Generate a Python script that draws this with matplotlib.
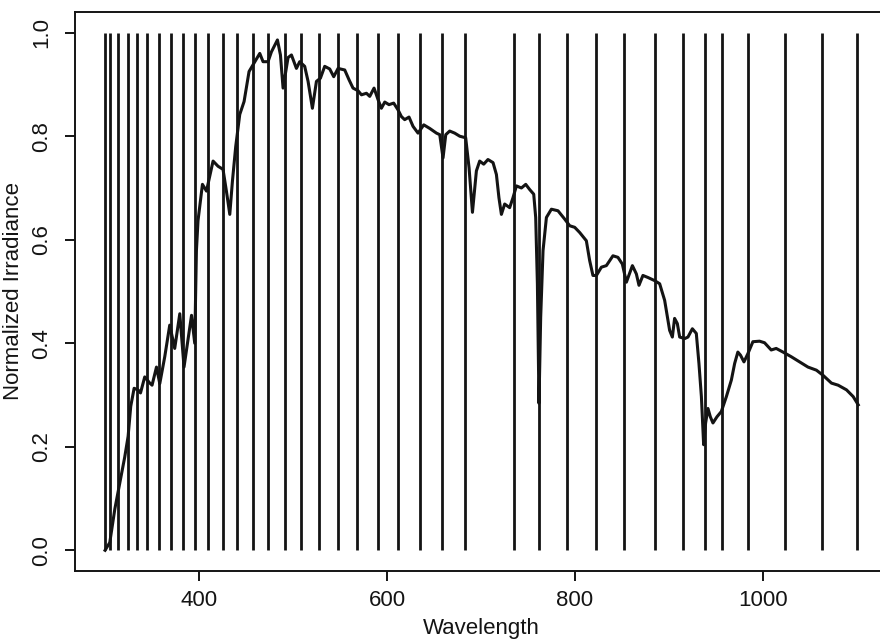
import matplotlib
matplotlib.use("Agg")
import matplotlib.pyplot as plt

plt.rcParams['font.family'] = ['Liberation Sans', 'DejaVu Sans']

# band centres (vertical lines)
bands = [300, 305, 314, 324, 334, 345, 357, 370, 383, 396, 410, 425, 440, 457,
         473, 491, 509, 528, 548, 568, 590, 612, 635, 658, 683, 735, 762, 791,
         822, 852, 885, 915, 938, 956, 984, 1023, 1063, 1100]

# spectrum
wavelength = [300.0, 305.0, 310.4, 315.6, 320.9, 324.5, 327.3, 330.9, 335.0, 337.7,
              342.2, 347.6, 350.0, 354.7, 358.2, 363.5, 368.8, 374.1, 379.5, 384.0,
              392.0, 395.4, 397.2, 398.9, 403.6, 407.9, 414.9, 420.2, 425.5, 429.1,
              432.7, 435.5, 439.0, 443.3, 447.9, 453.2, 457.4, 460.0, 464.6, 468.1,
              473.4, 477.0, 483.4, 486.6, 489.4, 494.7, 498.3, 503.6, 507.1, 512.4,
              516.0, 520.6, 524.9, 529.1, 533.7, 539.0, 543.3, 547.9, 555.0, 559.6,
              563.8, 569.1, 572.8, 578.1, 581.6, 586.2, 590.4, 594.0, 597.6, 602.1,
              607.1, 611.7, 615.3, 618.8, 623.4, 627.7, 633.0, 639.1, 645.5, 652.6,
              656.1, 659.6, 662.5, 666.7, 672.0, 677.4, 683.7, 687.3, 690.9, 695.1,
              698.6, 702.9, 707.4, 712.8, 716.4, 719.1, 721.7, 725.2, 730.5, 734.0,
              737.7, 743.0, 747.6, 751.8, 756.1, 758.2, 760.0, 761.7, 763.5, 766.0,
              769.6, 774.9, 781.9, 789.0, 794.4, 799.7, 805.0, 812.1, 815.6, 819.1,
              822.8, 828.1, 833.4, 840.4, 845.7, 850.4, 854.7, 861.1, 865.3, 868.1,
              872.3, 877.7, 884.8, 890.1, 895.4, 900.7, 903.6, 906.0, 908.9, 911.4,
              916.7, 920.2, 924.9, 929.1, 931.9, 934.5, 936.9, 939.0, 941.5, 944.0,
              946.8, 951.1, 955.7, 961.1, 966.4, 969.9, 973.3, 976.1, 979.8, 984.0,
              989.3, 996.4, 1001.7, 1008.8, 1014.1, 1021.3, 1030.1, 1038.9, 1047.9, 1056.9,
              1064.0, 1072.9, 1080.0, 1088.9, 1096.0, 1101.4]
irradiance = [0.000, 0.015, 0.080, 0.130, 0.180, 0.220, 0.278, 0.313, 0.310, 0.304,
              0.335, 0.323, 0.319, 0.354, 0.322, 0.374, 0.435, 0.390, 0.457, 0.354,
              0.454, 0.400, 0.579, 0.637, 0.707, 0.694, 0.752, 0.742, 0.736, 0.694,
              0.649, 0.713, 0.780, 0.842, 0.867, 0.925, 0.938, 0.946, 0.960, 0.944,
              0.944, 0.963, 0.986, 0.957, 0.893, 0.952, 0.957, 0.931, 0.944, 0.935,
              0.906, 0.854, 0.906, 0.912, 0.935, 0.930, 0.915, 0.931, 0.928, 0.909,
              0.893, 0.888, 0.880, 0.883, 0.877, 0.893, 0.871, 0.854, 0.866, 0.861,
              0.864, 0.851, 0.838, 0.832, 0.837, 0.819, 0.806, 0.822, 0.815, 0.806,
              0.803, 0.758, 0.803, 0.810, 0.806, 0.800, 0.797, 0.739, 0.653, 0.733,
              0.752, 0.746, 0.755, 0.749, 0.726, 0.681, 0.649, 0.669, 0.662, 0.681,
              0.704, 0.700, 0.707, 0.697, 0.688, 0.643, 0.515, 0.284, 0.450, 0.579,
              0.643, 0.659, 0.656, 0.640, 0.627, 0.624, 0.614, 0.598, 0.560, 0.531,
              0.531, 0.547, 0.550, 0.569, 0.566, 0.553, 0.518, 0.550, 0.534, 0.512,
              0.531, 0.527, 0.521, 0.515, 0.483, 0.425, 0.412, 0.448, 0.438, 0.412,
              0.409, 0.412, 0.428, 0.419, 0.361, 0.297, 0.204, 0.246, 0.274, 0.258,
              0.246, 0.258, 0.268, 0.297, 0.329, 0.361, 0.383, 0.377, 0.364, 0.380,
              0.403, 0.404, 0.401, 0.387, 0.390, 0.383, 0.374, 0.364, 0.354, 0.348,
              0.338, 0.323, 0.319, 0.310, 0.297, 0.281]

xticks = [400, 600, 800, 1000]
yticks = [0.0, 0.2, 0.4, 0.6, 0.8, 1.0]

ink = '#141414'

fig = plt.figure(figsize=(8.8, 6.44), dpi=100)
# box runs past the right edge like the scan
ax = fig.add_axes([75 / 880, 73 / 644, 812 / 880, 559 / 644])

ax.vlines(bands, 0, 1, color=ink, lw=2.0)
ax.plot(wavelength, irradiance, color=ink, lw=2.2)

ax.set_xlim(268, 1132)
ax.set_ylim(-0.04, 1.04)
ax.set_xticks(xticks)
ax.set_yticks(yticks)
ax.set_yticklabels([f"{t:.1f}" for t in yticks], rotation=90, va='center')

for s in ax.spines.values():
    s.set_linewidth(1.4)
    s.set_color(ink)
ax.tick_params(length=7.5, width=1.4, color=ink, labelsize=16, labelcolor=ink)
ax.tick_params(axis='x', pad=6)
ax.tick_params(axis='y', pad=9)

ax.set_xlabel("Wavelength", fontsize=16, color=ink, labelpad=5)
ax.set_ylabel("Normalized Irradiance", fontsize=16, color=ink, labelpad=5)

fig.savefig("out.png", dpi=100)
